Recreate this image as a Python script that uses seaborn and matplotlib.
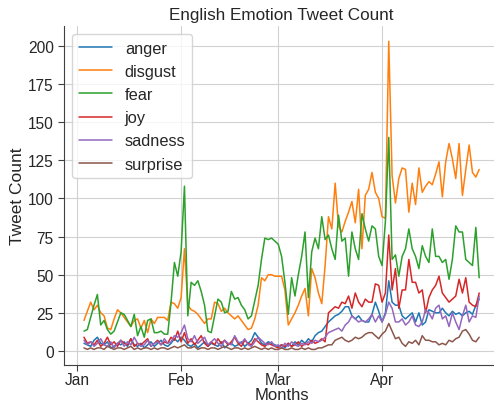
import numpy as np
import pandas as pd
import seaborn as sns
import matplotlib
matplotlib.use("Agg")
import matplotlib.pyplot as plt
import matplotlib.dates as mdates

# daily counts, 2020-01-03 .. 2020-04-30
dates = pd.date_range("2020-01-03", "2020-04-30", freq="D")

anger = [5, 4, 3, 7, 9, 5, 4, 6, 2, 3, 5, 4, 6, 3, 8, 4, 3, 5, 2, 4, 6, 3, 5, 7, 4, 3, 5, 8, 6,
         9, 7, 4, 3, 5, 2, 4, 6, 3, 5, 4, 3, 6, 2, 4, 5, 3, 4, 6, 3, 5, 7, 12, 9, 5, 4, 6, 5, 4,
         3, 4, 2, 5, 3, 6, 4, 7, 5, 8, 6, 10, 12, 13, 16,
         19, 21, 23, 24, 26, 29, 29, 23, 21, 23, 20, 19, 19,
         24, 32, 26, 19, 25, 46, 32, 30, 30, 23, 21, 23, 25, 19, 25, 17, 19, 27, 26, 25,
         25, 28, 25, 23, 26, 24, 25, 23, 25, 26, 24, 30, 34]

disgust = [20, 26, 32, 27, 30, 25, 23, 15, 14, 21, 27, 25, 22, 19, 16, 20, 21, 15, 20, 12, 21, 18, 22, 22, 22, 20, 32, 31, 28,
           35, 67, 30, 27, 26, 24, 21, 18, 21, 21, 32, 31, 26, 28, 25, 23, 21, 23, 20, 17, 14, 15, 21, 30, 48, 46, 50, 50, 49,
           49, 49, 40, 17, 21, 25, 30, 36, 41, 23, 54, 48, 38, 31, 56, 88, 80, 110, 82, 78, 85, 91, 98, 84, 106, 67, 102, 106, 117, 104, 100,
           88, 87, 203, 115, 97, 113, 120, 119, 91, 110, 96, 120, 104, 108, 111, 109, 116, 124, 101, 124, 136, 126, 113, 136, 102, 119, 135, 117, 114, 119]

fear = [13, 14, 22, 30, 37, 17, 20, 14, 11, 13, 19, 25, 24, 20, 16, 24, 10, 16, 9, 20, 21, 12, 12, 13, 11, 11, 32, 58, 49,
        65, 108, 23, 45, 43, 46, 39, 30, 13, 12, 23, 34, 32, 25, 26, 39, 34, 35, 30, 27, 21, 23, 33, 43, 60, 74, 73, 74, 72,
        70, 62, 45, 24, 48, 36, 50, 62, 78, 35, 65, 74, 67, 88, 73, 76, 67, 60, 89, 72, 74, 49, 78, 67, 60, 90, 80, 72, 82, 80, 62,
        56, 85, 140, 60, 63, 49, 62, 67, 80, 67, 62, 54, 69, 62, 58, 80, 62, 62, 58, 60, 47, 60, 82, 78, 78, 60, 58, 56, 81, 48]

joy = [9, 5, 6, 4, 7, 3, 5, 9, 4, 6, 3, 7, 5, 4, 8, 3, 5, 4, 6, 8, 3, 5, 7, 4, 6, 5, 9, 7, 13,
       6, 12, 5, 8, 4, 7, 10, 5, 3, 6, 4, 8, 5, 7, 4, 6, 9, 5, 3, 7, 5, 4, 8, 6, 4, 3, 5, 4, 3,
       2, 4, 3, 5, 3, 4, 6, 3, 5, 4, 7, 5, 6, 8, 6,
       25, 27, 29, 28, 32, 31, 36, 28, 38, 32, 29, 34, 32,
       32, 44, 43, 32, 38, 76, 40, 54, 28, 40, 40, 60, 45, 45, 38, 40, 25, 35, 40, 43,
       49, 38, 35, 32, 34, 36, 47, 38, 48, 32, 30, 29, 38]

sadness = [7, 4, 6, 3, 5, 8, 4, 3, 6, 2, 5, 7, 3, 6, 4, 9, 5, 3, 4, 7, 3, 5, 6, 4, 8, 5, 6, 10, 9,
           12, 17, 8, 6, 10, 5, 7, 9, 4, 6, 8, 5, 3, 7, 5, 4, 10, 6, 5, 8, 4, 3, 6, 9, 7, 5, 4, 6, 3,
           4, 2, 5, 3, 6, 4, 3, 5, 4, 6, 5, 7, 6, 7, 9,
           12, 13, 14, 15, 13, 17, 19, 23, 21, 19, 20, 19, 21,
           24, 19, 23, 19, 24, 32, 28, 19, 19, 21, 17, 19, 23, 17, 16, 19, 27, 25, 21, 28,
           30, 21, 23, 16, 25, 19, 14, 23, 30, 19, 23, 22, 36]

surprise = [2, 1, 2, 1, 2, 2, 1, 3, 2, 1, 2, 2, 1, 2, 3, 1, 2, 1, 2, 2, 1, 2, 1, 2, 2, 1, 2, 3, 2,
            3, 4, 2, 2, 3, 1, 2, 2, 1, 2, 2, 1, 2, 3, 2, 1, 2, 2, 1, 2, 1, 2, 3, 2, 1, 2, 1, 2, 1,
            1, 2, 1, 1, 2, 1, 1, 2, 1, 2, 1, 1, 2, 2, 3,
            4, 4, 7, 8, 9, 7, 6, 7, 9, 8, 9,
            11, 12, 12, 10, 8, 11, 13, 18, 13, 8, 9, 5, 3, 6, 5, 7, 4, 10, 7, 7,
            6, 6, 4, 5, 4, 7, 6, 8, 9, 13, 14, 11, 7, 6, 9]

emotions = ["anger", "disgust", "fear", "joy", "sadness", "surprise"]
month_ticks = ["2020-01-01", "2020-02-01", "2020-03-01", "2020-04-01"]
month_labels = ["Jan", "Feb", "Mar", "Apr"]

series = dict(zip(emotions, [anger, disgust, fear, joy, sadness, surprise]))
df = pd.concat([pd.DataFrame({"date": dates, "count": v, "emotion": k})
                for k, v in series.items()], ignore_index=True)

sns.set_style("whitegrid", {"axes.edgecolor": "0.25", "xtick.bottom": True, "ytick.left": True,
                            "grid.color": "0.82"})
plt.rcParams["font.family"] = ["Liberation Sans", "DejaVu Sans"]

fig = plt.figure(figsize=(4.94, 4.02), dpi=100)
ax = fig.add_axes([0.130, 0.090, 0.880, 0.843])
sns.lineplot(data=df, x="date", y="count", hue="emotion", palette="tab10",
             linewidth=1.1, ax=ax)

ax.set_xticks([mdates.date2num(pd.Timestamp(d)) for d in month_ticks])
ax.set_xticklabels(month_labels)
ax.tick_params(labelsize=11.2, color="0.25", length=4)
ax.tick_params(axis="x", pad=1.5)
ax.set_xlabel("Months", fontsize=12, labelpad=0)
ax.set_ylabel("Tweet Count", fontsize=12.5, labelpad=2)
ax.set_title("English Emotion Tweet Count", fontsize=12.3, pad=5)
sns.despine(ax=ax)

leg = ax.get_legend()
handles = leg.legend_handles
labels = [t.get_text() for t in leg.get_texts()]
ax.legend(handles, labels, loc="upper left", fontsize=11.8, frameon=True)

fig.savefig("out.png", dpi=100)
